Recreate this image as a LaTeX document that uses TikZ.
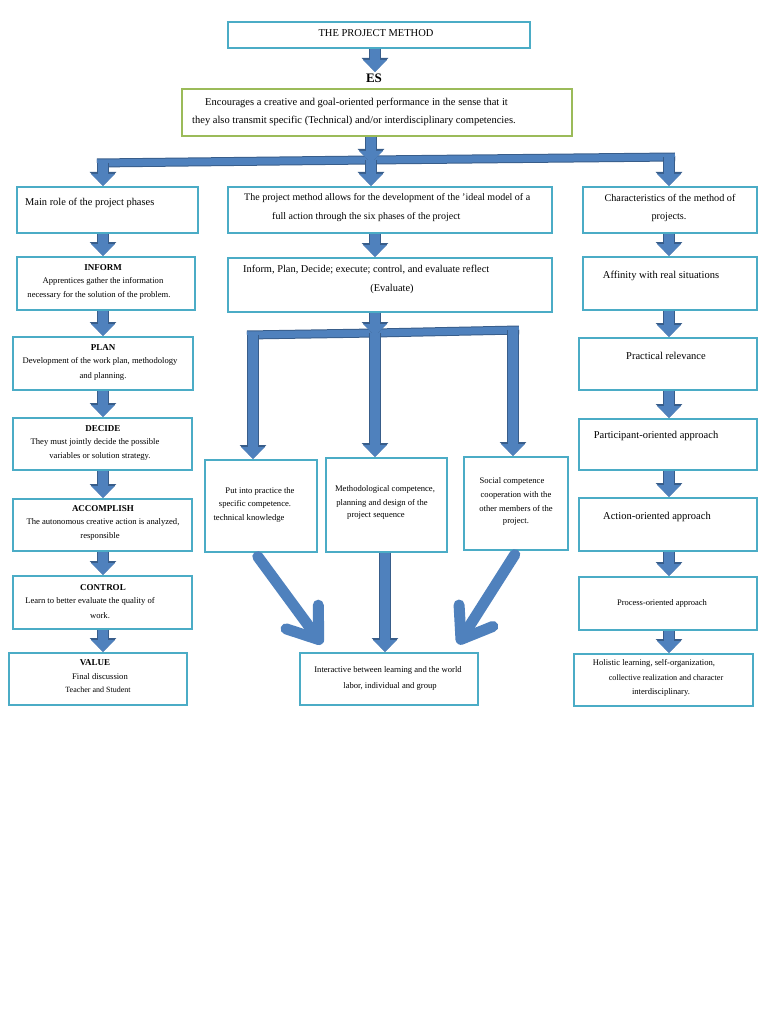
\documentclass[tikz,border=0pt]{standalone}
\usepackage{fontspec}
\setmainfont{Liberation Serif}
\usetikzlibrary{arrows.meta,calc}
\definecolor{boxc}{HTML}{4BACC6}
\definecolor{greenc}{HTML}{9BBB59}
\definecolor{arrf}{HTML}{4F81BD}
\definecolor{arro}{HTML}{385D8A}
\newcommand\fsz[1]{\fontsize{#1}{#1}\selectfont}
\tikzset{
  bx/.style={draw=boxc, line width=1.6pt, fill=white, anchor=north west, inner sep=0pt},
  gx/.style={draw=greenc, line width=1.6pt, fill=white, anchor=north west, inner sep=0pt},
  barrow/.style={line width=10pt, draw=arrf, -{Triangle[width=23pt,length=12pt]},
     preaction={draw=arro, line width=12pt, -{Triangle[width=26pt,length=14pt]}}},
  bigarrow/.style={line width=11pt, draw=arrf, line cap=round,
     -{Straight Barb[width=40pt,length=28pt,round]}},
  bar/.style={line width=7pt, draw=arrf, preaction={draw=arro, line width=9pt}},
  tx/.style={inner sep=0pt, font=\fsz{10.4}},
  ts/.style={inner sep=0pt, font=\fsz{8.6}},
  tb/.style={inner sep=0pt, font=\bfseries\fsz{9}},
  tr/.style={inner sep=0pt, font=\fsz{10.5}},
}
\begin{document}
\begin{tikzpicture}[x=1pt,y=-1pt]
\fill[white] (0,0) rectangle (768,1024);
\useasboundingbox (0,0) rectangle (768,1024);

% ---------- boxes ----------
\node[bx, minimum width=302pt, minimum height=26pt] (title) at (227,21) {};
\node[gx, minimum width=390pt, minimum height=47pt] (green) at (181,88) {};
\node[bx, minimum width=181pt, minimum height=46pt] (main) at (16,186) {};
\node[bx, minimum width=324pt, minimum height=46pt] (mid1) at (227,186) {};
\node[bx, minimum width=174pt, minimum height=46pt] (char) at (582,186) {};
\node[bx, minimum width=178pt, minimum height=53pt] (inform) at (16,256) {};
\node[bx, minimum width=180pt, minimum height=53pt] (plan) at (12,336) {};
\node[bx, minimum width=179pt, minimum height=52pt] (decide) at (12,417) {};
\node[bx, minimum width=179pt, minimum height=52pt] (accomp) at (12,498) {};
\node[bx, minimum width=179pt, minimum height=53pt] (control) at (12,575) {};
\node[bx, minimum width=178pt, minimum height=52pt] (value) at (8,652) {};
\node[bx, minimum width=324pt, minimum height=54pt] (mid2) at (227,257) {};
\node[bx, minimum width=112pt, minimum height=92pt] (put) at (204,459) {};
\node[bx, minimum width=121pt, minimum height=94pt] (meth) at (325,457) {};
\node[bx, minimum width=104pt, minimum height=93pt] (social) at (463,456) {};
\node[bx, minimum width=178pt, minimum height=52pt] (inter) at (299,652) {};
\node[bx, minimum width=174pt, minimum height=53pt] (aff) at (582,256) {};
\node[bx, minimum width=178pt, minimum height=52pt] (prac) at (578,337) {};
\node[bx, minimum width=178pt, minimum height=51pt] (part) at (578,418) {};
\node[bx, minimum width=178pt, minimum height=53pt] (act) at (578,497) {};
\node[bx, minimum width=178pt, minimum height=53pt] (proc) at (578,576) {};
\node[bx, minimum width=179pt, minimum height=52pt] (hol) at (573,653) {};

% ---------- texts ----------
\node[inner sep=0pt, font=\fsz{10.5}] (t-title) at (376,33) {THE PROJECT METHOD};
\node[inner sep=0pt, font=\bfseries\fsz{13}] (es) at (374,78) {ES};
\node[inner sep=0pt, font=\fsz{10.5}, anchor=west] (t-g1) at (205,103) {Encourages a creative and goal-oriented performance in the sense that it};
\node[inner sep=0pt, font=\fsz{10.5}, anchor=west] (t-g2) at (192,121) {they also transmit specific (Technical) and/or interdisciplinary competencies.};
\node[tx, anchor=west] (t-main) at (25,203) {Main role of the project phases};
\node[inner sep=0pt, font=\fsz{10}, anchor=west] (t-m1a) at (244,198) {The project method allows for the development of the 'ideal model of a};
\node[inner sep=0pt, font=\fsz{10}, anchor=west] (t-m1b) at (272,217) {full action through the six phases of the project};
\node[inner sep=0pt, font=\fsz{10.2}] (t-c1) at (670,198) {Characteristics of the method of};
\node[inner sep=0pt, font=\fsz{10.2}] (t-c2) at (669,217) {projects.};

\node[tb] (t-inf0) at (103,268) {INFORM};
\node[ts] (t-inf1) at (103,281) {Apprentices gather the information};
\node[ts] (t-inf2) at (99,295) {necessary for the solution of the problem.};
\node[tb] (t-pl0) at (103,348) {PLAN};
\node[ts] (t-pl1) at (100,361) {Development of the work plan, methodology};
\node[ts] (t-pl2) at (103,376) {and planning.};
\node[tb] (t-de0) at (103,429) {DECIDE};
\node[ts] (t-de1) at (95,442) {They must jointly decide the possible};
\node[ts] (t-de2) at (100,456) {variables or solution strategy.};
\node[tb] (t-ac0) at (103,509) {ACCOMPLISH};
\node[ts] (t-ac1) at (103,522) {The autonomous creative action is analyzed,};
\node[ts] (t-ac2) at (100,536) {responsible};
\node[tb] (t-co0) at (103,588) {CONTROL};
\node[ts] (t-co1) at (90,601) {Learn to better evaluate the quality of};
\node[ts] (t-co2) at (100,616) {work.};
\node[tb] (t-va0) at (95,663) {VALUE};
\node[ts] (t-va1) at (100,677) {Final discussion};
\node[inner sep=0pt, font=\fsz{8}] (t-va2) at (98,690) {Teacher and Student};

\node[tx, anchor=west] (t-m2a) at (243,270) {Inform, Plan, Decide; execute; control, and evaluate reflect};
\node[tx] (t-m2b) at (392,289) {(Evaluate)};
\node[ts] (t-p1) at (260,491) {Put into practice the};
\node[ts] (t-p2) at (255,504) {specific competence.};
\node[ts] (t-p3) at (249,518) {technical knowledge};
\node[ts] (t-me1) at (385,489) {Methodological competence,};
\node[ts] (t-me2) at (382,503) {planning and design of the};
\node[ts] (t-me3) at (376,516) {project sequence};
\node[ts] (t-s1) at (512,481) {Social competence};
\node[ts] (t-s2) at (516,495) {cooperation with the};
\node[ts] (t-s3) at (516,509) {other members of the};
\node[ts] (t-s4) at (516,522) {project.};
\node[ts] (t-i1) at (388,670) {Interactive between learning and the world};
\node[ts] (t-i2) at (390,686) {labor, individual and group};

\node[tr] (t-af) at (661,276) {Affinity with real situations};
\node[tr] (t-pr) at (666,356) {Practical relevance};
\node[tr] (t-pa) at (656,436) {Participant-oriented approach};
\node[tr] (t-act) at (657,517) {Action-oriented approach};
\node[inner sep=0pt, font=\fsz{8.5}] (t-pc) at (662,603) {Process-oriented approach};
\node[ts] (t-h1) at (654,663) {Holistic learning, self-organization,};
\node[inner sep=0pt, font=\fsz{8.2}] (t-h2) at (666,678) {collective realization and character};
\node[ts] (t-h3) at (661,692) {interdisciplinary.};

% ---------- connectors ----------
\coordinate (es-tip) at (375,72);
\draw[barrow] (title.south -| es-tip) -- (es-tip);

% first bar
\coordinate (b1L) at (103,163);
\coordinate (b1M) at (371,160);
\coordinate (b1R) at (669,157);
\draw[bar] ($(b1L)+(-6,0)$) -- (b1M) -- ($(b1R)+(6,0)$);
\draw[barrow] (green.south -| b1M) -- ($(b1M)+(0,3)$);
\draw[barrow] (b1L) -- (b1L |- main.north);
\draw[barrow] (b1M) -- (b1M |- mid1.north);
\draw[barrow] (b1R) -- (b1R |- char.north);

% left column
\coordinate (lc) at (103,0);
\draw[barrow] (main.south -| lc) -- (inform.north -| lc);
\draw[barrow] (inform.south -| lc) -- (plan.north -| lc);
\draw[barrow] (plan.south -| lc) -- (decide.north -| lc);
\draw[barrow] (decide.south -| lc) -- (accomp.north -| lc);
\draw[barrow] (accomp.south -| lc) -- (control.north -| lc);
\draw[barrow] (control.south -| lc) -- (value.north -| lc);

% right column
\coordinate (rc) at (669,0);
\draw[barrow] (char.south -| rc) -- (aff.north -| rc);
\draw[barrow] (aff.south -| rc) -- (prac.north -| rc);
\draw[barrow] (prac.south -| rc) -- (part.north -| rc);
\draw[barrow] (part.south -| rc) -- (act.north -| rc);
\draw[barrow] (act.south -| rc) -- (proc.north -| rc);
\draw[barrow] (proc.south -| rc) -- (hol.north -| rc);

% middle column
\coordinate (mc) at (375,0);
\draw[barrow] (mid1.south -| mc) -- (mid2.north -| mc);
\coordinate (b2L) at (253,335);
\coordinate (b2M) at (375,333);
\coordinate (b2R) at (513,330);
\draw[bar] ($(b2L)+(-6,0)$) -- (b2M) -- ($(b2R)+(6,0)$);
\draw[barrow] (mid2.south -| b2M) -- ($(b2M)+(0,3)$);
\draw[barrow] (b2L) -- (b2L |- put.north);
\draw[barrow] (b2M) -- (b2M |- meth.north);
\draw[barrow] (b2R) -- (b2R |- social.north);

% converging arrows
\coordinate (dL) at (322,644);
\coordinate (dR) at (458,644);
\coordinate (dM) at (385,0);
\draw[bigarrow] ($(put.south)+(-3,4)$) -- (dL);
\draw[barrow] (meth.south -| dM) -- (inter.north -| dM);
\draw[bigarrow] ($(social.south)+(-1,4)$) -- (dR);
\end{tikzpicture}
\end{document}
